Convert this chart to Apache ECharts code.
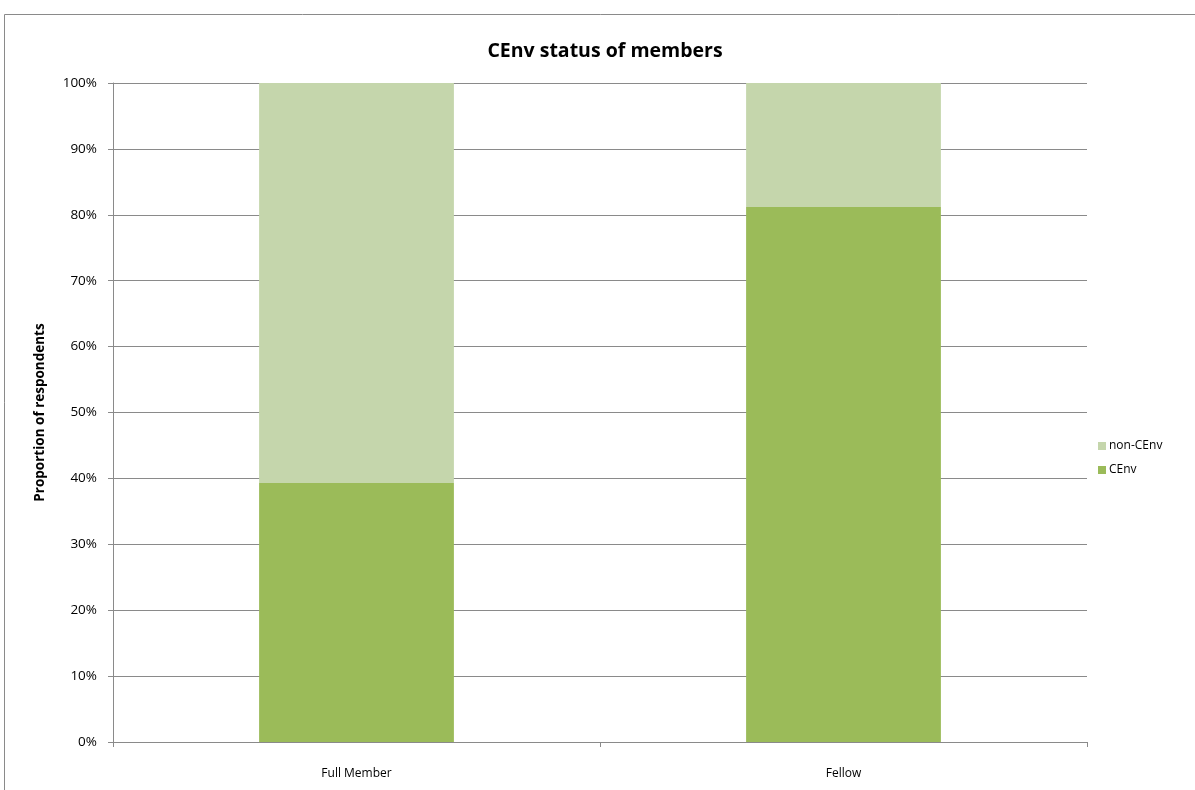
<!DOCTYPE html>
<html>
<head>
<meta charset="utf-8">
<script src="https://cdn.jsdelivr.net/npm/echarts@6/dist/echarts.min.js"></script>
<style>
  html, body { margin: 0; padding: 0; background: #fff; }
  #chart { width: 1195px; height: 790px; }
</style>
</head>
<body>
<div id="chart"></div>
<script>
// Membership grades and share of respondents holding CEnv (percent)
const categories = ['Full Member', 'Fellow'];
const cenv = [39.3, 81.2];
const nonCenv = [60.7, 18.8];
const seriesNames = ['CEnv', 'non-CEnv'];

const font = '"Open Sans", "Noto Sans", sans-serif';
const chart = echarts.init(document.getElementById('chart'));

chart.setOption({
  backgroundColor: '#fff',
  animation: false,
  graphic: [{
    type: 'rect',
    shape: { x: 4.5, y: 14.5, width: 1300, height: 900 },
    style: { fill: 'none', stroke: '#8a8a8a', lineWidth: 1 },
    silent: true
  }],
  title: {
    text: 'CEnv status of members',
    left: 600, top: 36, textAlign: 'center',
    textStyle: { fontFamily: font, fontSize: 19.5, fontWeight: 'bold', color: '#000' }
  },
  legend: {
    orient: 'vertical',
    left: 1093, top: 435,
    itemWidth: 8, itemHeight: 8, itemGap: 12,
    icon: 'rect',
    data: ['non-CEnv', 'CEnv'],
    textStyle: { fontFamily: font, fontSize: 12, color: '#000', padding: [0, 0, 0, -2] }
  },
  grid: { left: 113, right: 108, top: 83, bottom: 48, containLabel: false },
  xAxis: {
    type: 'category',
    data: categories,
    axisLine: { lineStyle: { color: '#8a8a8a' } },
    axisTick: { show: true, alignWithLabel: false, length: 5, lineStyle: { color: '#8a8a8a' } },
    axisLabel: { fontFamily: font, fontSize: 12, color: '#000', margin: 26 }
  },
  yAxis: {
    type: 'value',
    min: 0, max: 100, interval: 10,
    name: 'Proportion of respondents',
    nameLocation: 'middle',
    nameGap: 66,
    nameTextStyle: { fontFamily: font, fontSize: 13.5, fontWeight: 'bold', color: '#000' },
    axisLine: { show: true, lineStyle: { color: '#8a8a8a' } },
    axisTick: { show: true, length: 5, lineStyle: { color: '#8a8a8a' } },
    axisLabel: { fontFamily: font, fontSize: 13.5, color: '#000', margin: 16, formatter: v => v + '%' },
    splitLine: { lineStyle: { color: '#8a8a8a', width: 1 } }
  },
  series: [
    {
      name: seriesNames[0], type: 'bar', stack: 'total', data: cenv,
      barWidth: '40%', itemStyle: { color: '#9BBB59' }
    },
    {
      name: seriesNames[1], type: 'bar', stack: 'total', data: nonCenv,
      barWidth: '40%', itemStyle: { color: '#C5D6AC' }
    }
  ]
});
</script>
</body>
</html>
